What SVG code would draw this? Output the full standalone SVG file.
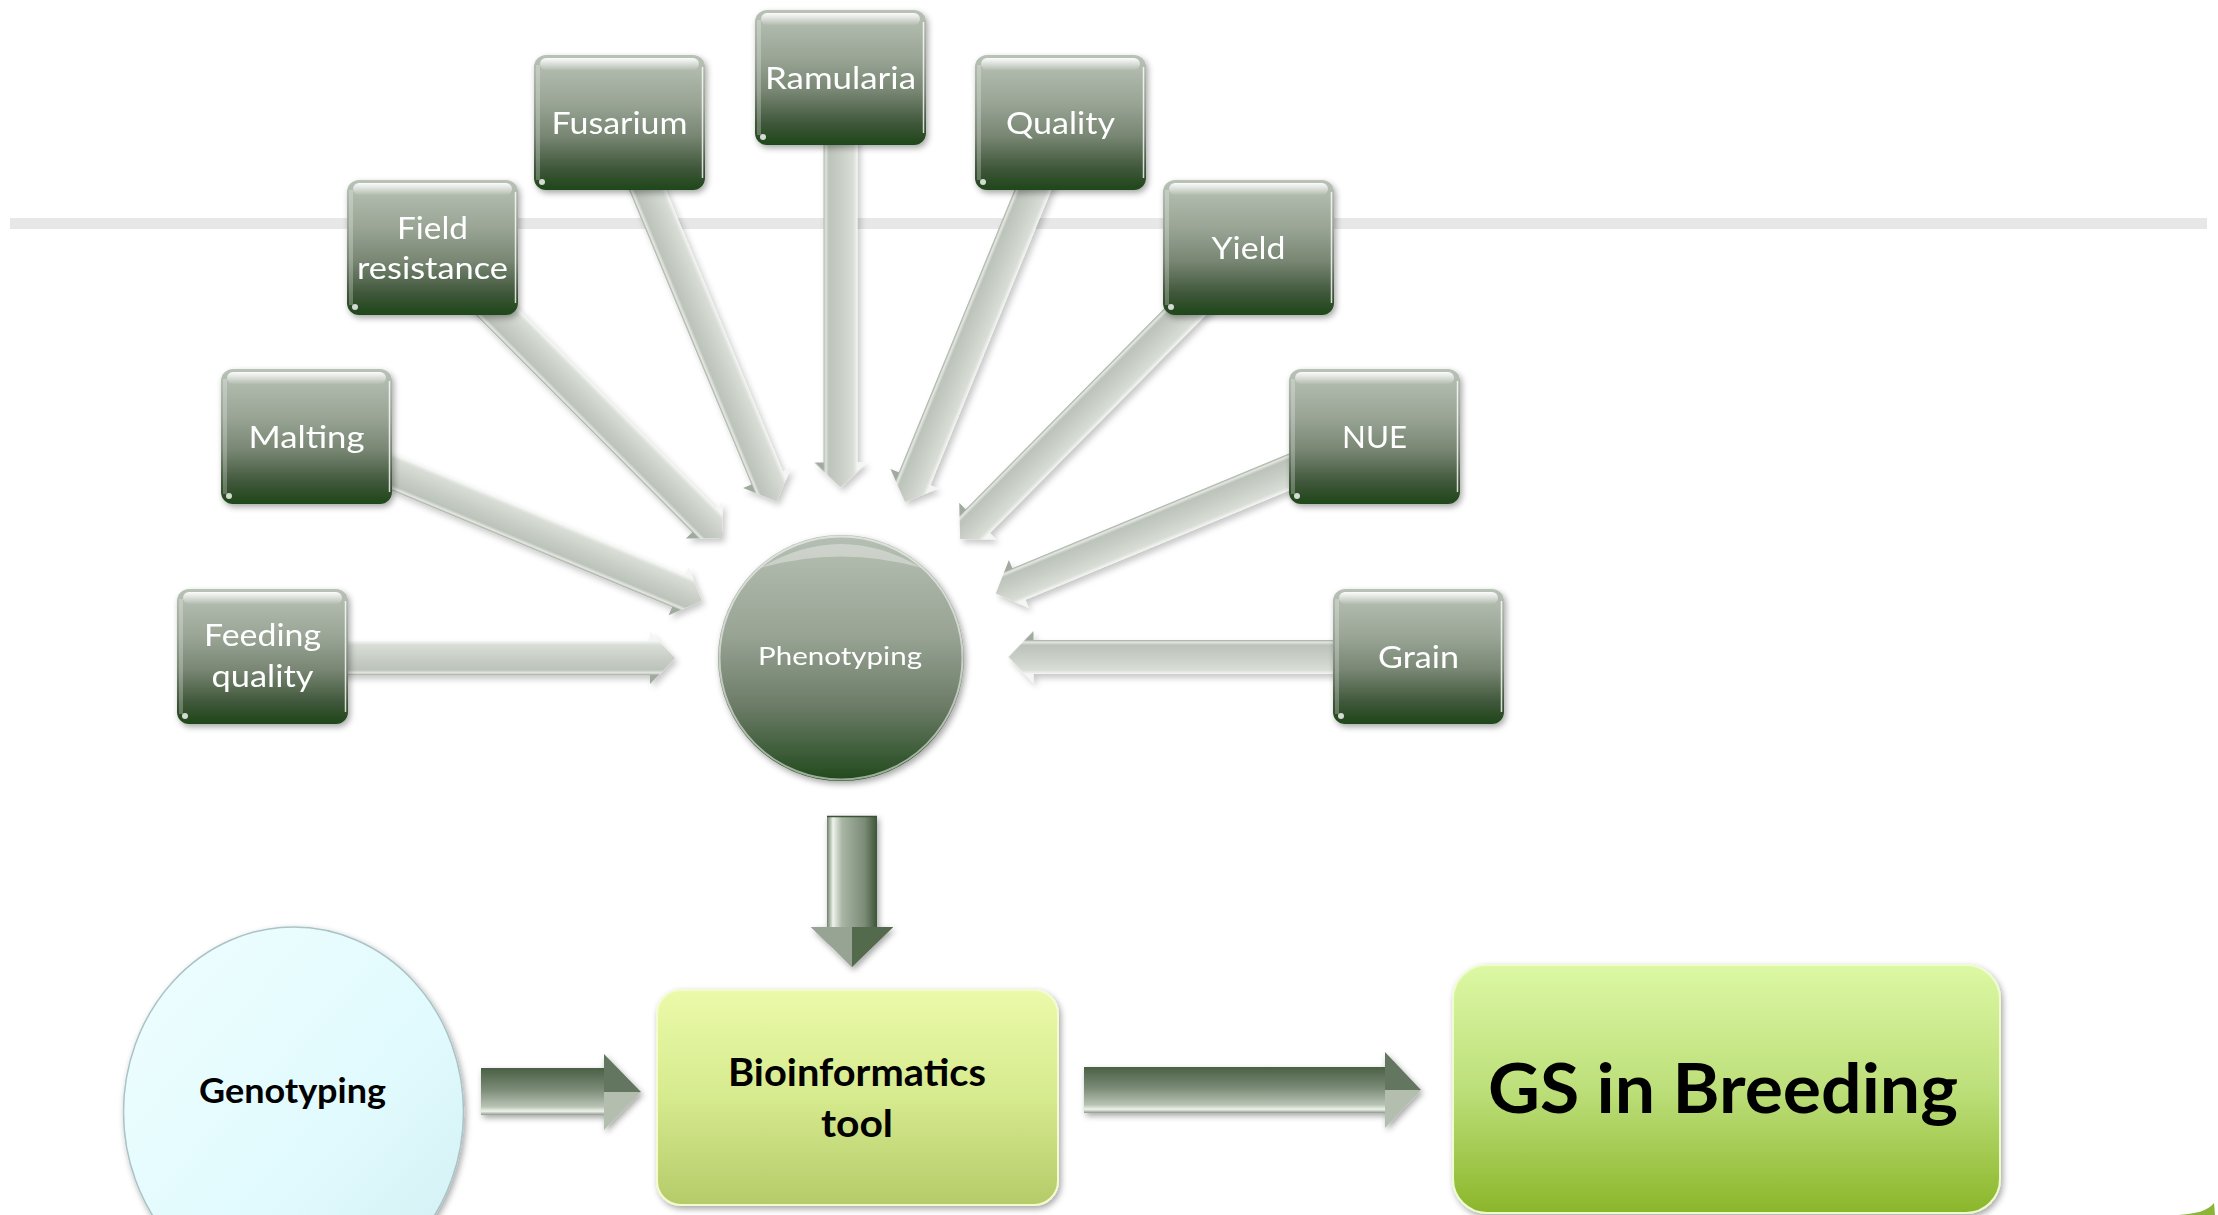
<svg xmlns="http://www.w3.org/2000/svg" xmlns:xlink="http://www.w3.org/1999/xlink" width="2218" height="1215" viewBox="0 0 2218 1215">
<style>
  .lbl { font-family: Lato, "Liberation Sans", sans-serif; font-size: 31px; fill: #ffffff; text-anchor: middle; }
  .big { font-family: Lato, "Liberation Sans", sans-serif; font-weight: bold; fill: #000000; text-anchor: middle; }
  .box { fill: url(#boxGrad); }
  .gloss { fill: url(#glossGrad); }
  .radial { fill: url(#radGrad); }
</style>
<defs>
  <linearGradient id="boxGrad" x1="0" y1="0" x2="0" y2="1">
    <stop offset="0" stop-color="#b9c2b6"/>
    <stop offset="0.35" stop-color="#9aa596"/>
    <stop offset="0.6" stop-color="#788673"/>
    <stop offset="0.85" stop-color="#3d5538"/>
    <stop offset="1" stop-color="#1e4719"/>
  </linearGradient>
  <linearGradient id="glossGrad" x1="0" y1="0" x2="0" y2="1">
    <stop offset="0" stop-color="#ffffff" stop-opacity="0.95"/>
    <stop offset="1" stop-color="#ffffff" stop-opacity="0.05"/>
  </linearGradient>
  <linearGradient id="phenGrad" x1="0" y1="0" x2="0" y2="1">
    <stop offset="0" stop-color="#b6bfb3"/>
    <stop offset="0.4" stop-color="#99a495"/>
    <stop offset="0.7" stop-color="#6b7b66"/>
    <stop offset="1" stop-color="#21491c"/>
  </linearGradient>
  <linearGradient id="radGrad" gradientUnits="userSpaceOnUse" x1="0" y1="-17" x2="0" y2="17">
    <stop offset="0" stop-color="#f4f6f3"/>
    <stop offset="0.12" stop-color="#d8ddd6"/>
    <stop offset="0.5" stop-color="#c9cfc7"/>
    <stop offset="0.85" stop-color="#bcc3ba"/>
    <stop offset="0.94" stop-color="#e4e8e2"/>
    <stop offset="1" stop-color="#a1aa9f"/>
  </linearGradient>
  <linearGradient id="downGrad" gradientUnits="userSpaceOnUse" x1="827" y1="0" x2="877" y2="0">
    <stop offset="0" stop-color="#6f7f6b"/>
    <stop offset="0.12" stop-color="#eef3ec"/>
    <stop offset="0.3" stop-color="#a9b5a5"/>
    <stop offset="0.75" stop-color="#7b8b77"/>
    <stop offset="1" stop-color="#3c5637"/>
  </linearGradient>
  <linearGradient id="hArrGrad" x1="0" y1="0" x2="0" y2="1">
    <stop offset="0" stop-color="#4a6045"/>
    <stop offset="0.45" stop-color="#7a8a76"/>
    <stop offset="0.82" stop-color="#b7c2b3"/>
    <stop offset="0.92" stop-color="#eef2ec"/>
    <stop offset="1" stop-color="#8d9a89"/>
  </linearGradient>
  <linearGradient id="genGrad" x1="0" y1="0" x2="1" y2="1">
    <stop offset="0" stop-color="#f0feff"/>
    <stop offset="0.6" stop-color="#e0fafd"/>
    <stop offset="1" stop-color="#d2eef2"/>
  </linearGradient>
  <linearGradient id="bioGrad" x1="0" y1="0" x2="0" y2="1">
    <stop offset="0" stop-color="#ebfaa9"/>
    <stop offset="0.5" stop-color="#d6ea8e"/>
    <stop offset="1" stop-color="#b5cb69"/>
  </linearGradient>
  <linearGradient id="gsGrad" x1="0" y1="0" x2="0" y2="1">
    <stop offset="0" stop-color="#dcf8a4"/>
    <stop offset="0.5" stop-color="#bddf7a"/>
    <stop offset="1" stop-color="#8bb62a"/>
  </linearGradient>
  <filter id="shadow" x="-20%" y="-20%" width="140%" height="140%">
    <feDropShadow dx="2" dy="3" stdDeviation="3" flood-color="#000000" flood-opacity="0.35"/>
  </filter>
  <filter id="softShadow" x="-10%" y="-10%" width="120%" height="120%">
    <feDropShadow dx="3" dy="4" stdDeviation="3" flood-color="#000000" flood-opacity="0.22"/>
  </filter>
  <path id="arr410" d="M0,-17 H385 V-26 L410,0 L385,26 V17 H0 Z"/>
  <path id="arr428" d="M0,-17 H403 V-26 L428,0 L403,26 V17 H0 Z"/>
  <path id="arr412" d="M0,-17 H387.5 V-26 L412.5,0 L387.5,26 V17 H0 Z"/>
</defs>

<rect x="0" y="0" width="2218" height="1215" fill="#ffffff"/>
<rect x="10" y="218" width="2197" height="11" fill="#e7e7e7"/>

<g id="connectors">
  <g filter="url(#softShadow)">
    <use xlink:href="#arr412" class="radial" transform="translate(262.5,658)"/>
    <use xlink:href="#arr428" class="radial" transform="translate(306.5,436.5) rotate(22.58)"/>
    <use xlink:href="#arr410" class="radial" transform="translate(432.5,247.5) rotate(45.1)"/>
    <use xlink:href="#arr410" class="radial" transform="translate(619.5,122.5) rotate(67.46)"/>
    <use xlink:href="#arr410" class="radial" transform="translate(840.5,77.5) rotate(90)"/>
    <use xlink:href="#arr410" class="radial" transform="translate(1060.5,122.5) rotate(112.28)"/>
    <use xlink:href="#arr410" class="radial" transform="translate(1248.5,247.5) rotate(134.7)"/>
    <use xlink:href="#arr410" class="radial" transform="translate(1374.5,436.5) rotate(157.48)"/>
    <use xlink:href="#arr410" class="radial" transform="translate(1418.5,657) rotate(180)"/>
  </g>
  <g id="arrow-phen-bio" filter="url(#shadow)">
    <polygon points="827,816 877,816 877,927 893,927 852,967 811,927 827,927" fill="url(#downGrad)"/>
    <polygon points="811,927 852,927 852,967" fill="#97a393"/>
    <polygon points="852,927 893,927 852,967" fill="#536a4e"/>
    <line x1="827" y1="816.5" x2="877" y2="816.5" stroke="#3c5236" stroke-width="1.5"/>
  </g>
  <g id="arrow-gen-bio" filter="url(#shadow)">
    <rect x="481" y="1068" width="123" height="47" fill="url(#hArrGrad)"/>
    <polygon points="604,1054 641,1092 604,1092" fill="#647760"/>
    <polygon points="604,1092 641,1092 604,1130" fill="#b3beaf"/>
  </g>
  <g id="arrow-bio-gs" filter="url(#shadow)">
    <rect x="1084" y="1067" width="301" height="46" fill="url(#hArrGrad)"/>
    <polygon points="1385,1052 1421,1090 1385,1090" fill="#647760"/>
    <polygon points="1385,1090 1421,1090 1385,1128" fill="#b3beaf"/>
  </g>
</g>

<g id="node-field-resistance" transform="translate(347,180)">
  <rect class="box" width="171" height="135" rx="12" filter="url(#shadow)"/>
  <rect x="6" y="3" width="159" height="12" rx="6" class="gloss"/>
  <rect x="2" y="10" width="4" height="115" fill="#ffffff" opacity="0.25"/>
  <line x1="168.5" y1="12" x2="168.5" y2="123" stroke="#ffffff" stroke-width="1.5" opacity="0.8"/>
  <circle cx="8" cy="127" r="3" fill="#ffffff" opacity="0.8"/>
  <text class="lbl" x="85.5" y="59" textLength="71" lengthAdjust="spacingAndGlyphs">Field</text>
  <text class="lbl" x="85.5" y="99" textLength="151" lengthAdjust="spacingAndGlyphs">resistance</text>
</g>
<g id="node-fusarium" transform="translate(534,55)">
  <rect class="box" width="171" height="135" rx="12" filter="url(#shadow)"/>
  <rect x="6" y="3" width="159" height="12" rx="6" class="gloss"/>
  <rect x="2" y="10" width="4" height="115" fill="#ffffff" opacity="0.25"/>
  <line x1="168.5" y1="12" x2="168.5" y2="123" stroke="#ffffff" stroke-width="1.5" opacity="0.8"/>
  <circle cx="8" cy="127" r="3" fill="#ffffff" opacity="0.8"/>
  <text class="lbl" x="85.5" y="78.5" textLength="136" lengthAdjust="spacingAndGlyphs">Fusarium</text>
</g>
<g id="node-ramularia" transform="translate(755,10)">
  <rect class="box" width="171" height="135" rx="12" filter="url(#shadow)"/>
  <rect x="6" y="3" width="159" height="12" rx="6" class="gloss"/>
  <rect x="2" y="10" width="4" height="115" fill="#ffffff" opacity="0.25"/>
  <line x1="168.5" y1="12" x2="168.5" y2="123" stroke="#ffffff" stroke-width="1.5" opacity="0.8"/>
  <circle cx="8" cy="127" r="3" fill="#ffffff" opacity="0.8"/>
  <text class="lbl" x="85.5" y="78.5" textLength="151" lengthAdjust="spacingAndGlyphs">Ramularia</text>
</g>
<g id="node-quality" transform="translate(975,55)">
  <rect class="box" width="171" height="135" rx="12" filter="url(#shadow)"/>
  <rect x="6" y="3" width="159" height="12" rx="6" class="gloss"/>
  <rect x="2" y="10" width="4" height="115" fill="#ffffff" opacity="0.25"/>
  <line x1="168.5" y1="12" x2="168.5" y2="123" stroke="#ffffff" stroke-width="1.5" opacity="0.8"/>
  <circle cx="8" cy="127" r="3" fill="#ffffff" opacity="0.8"/>
  <text class="lbl" x="85.5" y="78.5" textLength="109" lengthAdjust="spacingAndGlyphs">Quality</text>
</g>
<g id="node-yield" transform="translate(1163,180)">
  <rect class="box" width="171" height="135" rx="12" filter="url(#shadow)"/>
  <rect x="6" y="3" width="159" height="12" rx="6" class="gloss"/>
  <rect x="2" y="10" width="4" height="115" fill="#ffffff" opacity="0.25"/>
  <line x1="168.5" y1="12" x2="168.5" y2="123" stroke="#ffffff" stroke-width="1.5" opacity="0.8"/>
  <circle cx="8" cy="127" r="3" fill="#ffffff" opacity="0.8"/>
  <text class="lbl" x="85.5" y="78.5" textLength="74" lengthAdjust="spacingAndGlyphs">Yield</text>
</g>
<g id="node-malting" transform="translate(221,369)">
  <rect class="box" width="171" height="135" rx="12" filter="url(#shadow)"/>
  <rect x="6" y="3" width="159" height="12" rx="6" class="gloss"/>
  <rect x="2" y="10" width="4" height="115" fill="#ffffff" opacity="0.25"/>
  <line x1="168.5" y1="12" x2="168.5" y2="123" stroke="#ffffff" stroke-width="1.5" opacity="0.8"/>
  <circle cx="8" cy="127" r="3" fill="#ffffff" opacity="0.8"/>
  <text class="lbl" x="85.5" y="78.5" textLength="116" lengthAdjust="spacingAndGlyphs">Malting</text>
</g>
<g id="node-nue" transform="translate(1289,369)">
  <rect class="box" width="171" height="135" rx="12" filter="url(#shadow)"/>
  <rect x="6" y="3" width="159" height="12" rx="6" class="gloss"/>
  <rect x="2" y="10" width="4" height="115" fill="#ffffff" opacity="0.25"/>
  <line x1="168.5" y1="12" x2="168.5" y2="123" stroke="#ffffff" stroke-width="1.5" opacity="0.8"/>
  <circle cx="8" cy="127" r="3" fill="#ffffff" opacity="0.8"/>
  <text class="lbl" x="85.5" y="78.5" textLength="65" lengthAdjust="spacingAndGlyphs">NUE</text>
</g>
<g id="node-feeding-quality" transform="translate(177,589)">
  <rect class="box" width="171" height="135" rx="12" filter="url(#shadow)"/>
  <rect x="6" y="3" width="159" height="12" rx="6" class="gloss"/>
  <rect x="2" y="10" width="4" height="115" fill="#ffffff" opacity="0.25"/>
  <line x1="168.5" y1="12" x2="168.5" y2="123" stroke="#ffffff" stroke-width="1.5" opacity="0.8"/>
  <circle cx="8" cy="127" r="3" fill="#ffffff" opacity="0.8"/>
  <text class="lbl" x="85.5" y="57" textLength="117" lengthAdjust="spacingAndGlyphs">Feeding</text>
  <text class="lbl" x="85.5" y="98" textLength="102" lengthAdjust="spacingAndGlyphs">quality</text>
</g>
<g id="node-grain" transform="translate(1333,589)">
  <rect class="box" width="171" height="135" rx="12" filter="url(#shadow)"/>
  <rect x="6" y="3" width="159" height="12" rx="6" class="gloss"/>
  <rect x="2" y="10" width="4" height="115" fill="#ffffff" opacity="0.25"/>
  <line x1="168.5" y1="12" x2="168.5" y2="123" stroke="#ffffff" stroke-width="1.5" opacity="0.8"/>
  <circle cx="8" cy="127" r="3" fill="#ffffff" opacity="0.8"/>
  <text class="lbl" x="85.5" y="78.5" textLength="81" lengthAdjust="spacingAndGlyphs">Grain</text>
</g>

<g id="node-phenotyping">
  <circle cx="841" cy="658" r="123" fill="url(#phenGrad)" filter="url(#shadow)"/>
  <circle cx="841" cy="658" r="121.5" fill="none" stroke="#ffffff" stroke-width="2" opacity="0.55"/>
  <path d="M760,568 Q841,520 922,568 Q841,545 760,568 Z" fill="#ffffff" opacity="0.35"/>
  <text class="lbl" x="840" y="665" style="font-size:25px" textLength="164" lengthAdjust="spacingAndGlyphs">Phenotyping</text>
</g>

<g id="node-genotyping">
  <ellipse cx="293.5" cy="1112" rx="170" ry="185" fill="url(#genGrad)" stroke="#a9c3c6" stroke-width="1.5" filter="url(#shadow)"/>
  <text class="big" x="292.5" y="1103" style="font-size:35px" textLength="187" lengthAdjust="spacingAndGlyphs">Genotyping</text>
</g>

<g id="node-bioinformatics">
  <rect x="657" y="990" width="401" height="215" rx="24" fill="url(#bioGrad)" stroke="#f4fccf" stroke-width="2" filter="url(#shadow)"/>
  <text class="big" x="857" y="1086" style="font-size:38px" textLength="258" lengthAdjust="spacingAndGlyphs">Bioinformatics</text>
  <text class="big" x="857" y="1137" style="font-size:38px" textLength="72" lengthAdjust="spacingAndGlyphs">tool</text>
</g>

<g id="node-gs-breeding">
  <rect x="1453" y="965" width="547" height="248" rx="34" fill="url(#gsGrad)" stroke="#eefcd0" stroke-width="2" filter="url(#shadow)"/>
  <text class="big" x="1723" y="1113" style="font-size:68px" textLength="470" lengthAdjust="spacingAndGlyphs">GS in Breeding</text>
</g>

<path d="M2178,1215 C2195,1214 2208,1211 2214,1203 L2215,1215 Z" fill="#8cb437"/>
</svg>
